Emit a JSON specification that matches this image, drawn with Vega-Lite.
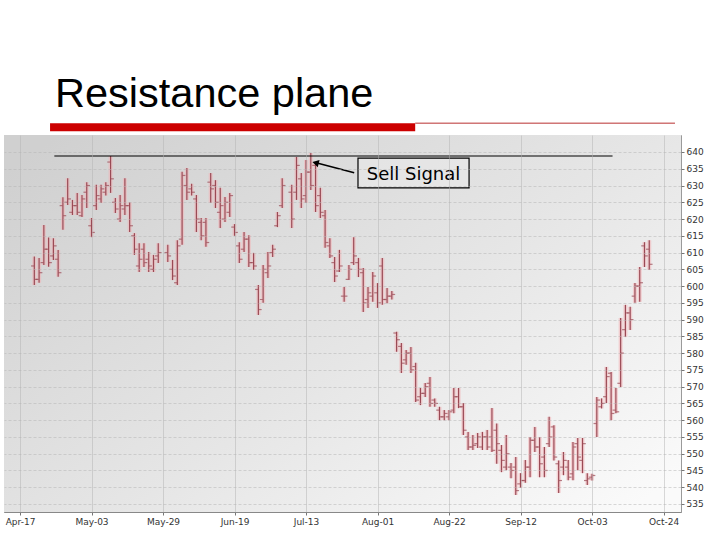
{
  "$schema": "https://vega.github.io/schema/vega-lite/v6.json",
  "width": 677,
  "height": 377,
  "autosize": "none",
  "padding": {"left": 4, "top": 135, "right": 39, "bottom": 28},
  "background": "white",
  "title": {"text": "Resistance plane", "anchor": "start", "frame": "group", "dx": 51, "dy": 52, "offset": 26, "baseline": "alphabetic", "font": "Liberation Sans", "fontSize": 41.5, "fontWeight": "normal", "color": "#000000"},
  "config": {
    "view": {"stroke": "#9a9a9a", "strokeWidth": 1},
    "axis": {"labelFont": "DejaVu Sans", "labelFontSize": 9, "labelColor": "#333333", "tickColor": "#777777", "tickSize": 3, "domainColor": "#888888", "title": null}
  },
  "datasets": {
    "bars": [
      {"d": 3, "o": 606, "h": 608.8, "l": 600.3, "c": 602},
      {"d": 4, "o": 602, "h": 608.4, "l": 601, "c": 604},
      {"d": 5, "o": 607, "h": 618.2, "l": 606.3, "c": 611},
      {"d": 6, "o": 611, "h": 614.5, "l": 605.8, "c": 607},
      {"d": 7, "o": 609, "h": 614.3, "l": 607.8, "c": 612},
      {"d": 8, "o": 608, "h": 610.8, "l": 602.8, "c": 604},
      {"d": 9, "o": 624, "h": 626.5, "l": 616.8, "c": 621},
      {"d": 10, "o": 625, "h": 632.2, "l": 624.2, "c": 626},
      {"d": 11, "o": 622, "h": 625.7, "l": 621.2, "c": 624},
      {"d": 12, "o": 624, "h": 627.8, "l": 621.2, "c": 622},
      {"d": 13, "o": 621, "h": 627.2, "l": 620.6, "c": 626},
      {"d": 14, "o": 628, "h": 631, "l": 623.3, "c": 630},
      {"d": 15, "o": 618, "h": 620.3, "l": 614.6, "c": 616},
      {"d": 16, "o": 624, "h": 630.2, "l": 622.7, "c": 627},
      {"d": 17, "o": 626, "h": 630.2, "l": 624.8, "c": 629},
      {"d": 18, "o": 628, "h": 631, "l": 627, "c": 630},
      {"d": 19, "o": 637, "h": 638.8, "l": 627.8, "c": 632},
      {"d": 20, "o": 625, "h": 626.3, "l": 621.8, "c": 623},
      {"d": 21, "o": 620, "h": 627.2, "l": 619.1, "c": 624},
      {"d": 22, "o": 623, "h": 632.2, "l": 621.2, "c": 624},
      {"d": 23, "o": 624, "h": 625, "l": 616.1, "c": 618},
      {"d": 24, "o": 615, "h": 615.8, "l": 609.3, "c": 611},
      {"d": 25, "o": 606, "h": 612.8, "l": 604.2, "c": 608},
      {"d": 26, "o": 611, "h": 612.8, "l": 605.7, "c": 607},
      {"d": 27, "o": 608, "h": 610.2, "l": 604.2, "c": 606},
      {"d": 28, "o": 605, "h": 609.3, "l": 604.2, "c": 608},
      {"d": 29, "o": 609, "h": 612.8, "l": 606.9, "c": 610},
      {"d": 31, "o": 610, "h": 612.3, "l": 607.2, "c": 609},
      {"d": 32, "o": 605, "h": 607.8, "l": 601.8, "c": 603},
      {"d": 33, "o": 601, "h": 613.7, "l": 600.3, "c": 612},
      {"d": 34, "o": 614, "h": 634.1, "l": 612.3, "c": 633},
      {"d": 35, "o": 630, "h": 635.2, "l": 625.7, "c": 628},
      {"d": 36, "o": 629, "h": 630.5, "l": 627, "c": 628},
      {"d": 37, "o": 626, "h": 627.2, "l": 616.1, "c": 620},
      {"d": 38, "o": 619, "h": 620.3, "l": 613.7, "c": 615},
      {"d": 39, "o": 619, "h": 620.3, "l": 611.7, "c": 613},
      {"d": 40, "o": 631, "h": 633.7, "l": 624.8, "c": 629},
      {"d": 41, "o": 630, "h": 631.6, "l": 623.3, "c": 625},
      {"d": 42, "o": 622, "h": 629.3, "l": 617.3, "c": 624},
      {"d": 43, "o": 620, "h": 626.6, "l": 619.1, "c": 625},
      {"d": 44, "o": 622, "h": 627.8, "l": 620.6, "c": 627},
      {"d": 45, "o": 617.6, "h": 618.5, "l": 615, "c": 616},
      {"d": 46, "o": 612, "h": 613.1, "l": 606.9, "c": 608},
      {"d": 47, "o": 611, "h": 616.1, "l": 610.2, "c": 614},
      {"d": 48, "o": 614, "h": 615.2, "l": 605.7, "c": 607},
      {"d": 49, "o": 607, "h": 609.9, "l": 604.8, "c": 606},
      {"d": 50, "o": 599, "h": 600.3, "l": 591.4, "c": 593},
      {"d": 51, "o": 596, "h": 606.3, "l": 595, "c": 605},
      {"d": 52, "o": 604, "h": 610.2, "l": 602.4, "c": 606},
      {"d": 53, "o": 610, "h": 612.3, "l": 608.7, "c": 611},
      {"d": 54, "o": 618, "h": 622.1, "l": 617.6, "c": 621},
      {"d": 55, "o": 624, "h": 632.2, "l": 623.3, "c": 630},
      {"d": 57, "o": 628, "h": 630.2, "l": 617.3, "c": 620},
      {"d": 58, "o": 628, "h": 638.5, "l": 625.7, "c": 636},
      {"d": 59, "o": 632, "h": 633.7, "l": 623.3, "c": 626},
      {"d": 60, "o": 627, "h": 637.6, "l": 624.8, "c": 634},
      {"d": 61, "o": 634, "h": 639.7, "l": 628.7, "c": 630},
      {"d": 62, "o": 636, "h": 636.7, "l": 622.1, "c": 624},
      {"d": 63, "o": 627, "h": 629.3, "l": 620.3, "c": 622},
      {"d": 64, "o": 621, "h": 622.7, "l": 611.4, "c": 613},
      {"d": 65, "o": 612, "h": 614.3, "l": 608.4, "c": 609},
      {"d": 66, "o": 607, "h": 608.7, "l": 601.2, "c": 603},
      {"d": 67, "o": 604.5, "h": 610.8, "l": 604.2, "c": 606},
      {"d": 68, "o": 597, "h": 599.7, "l": 595.3, "c": 597},
      {"d": 69, "o": 602, "h": 606.3, "l": 601.8, "c": 605},
      {"d": 70, "o": 607, "h": 614.6, "l": 606.3, "c": 609},
      {"d": 71, "o": 607, "h": 608.4, "l": 602.7, "c": 605},
      {"d": 72, "o": 604, "h": 605.4, "l": 592.3, "c": 595},
      {"d": 73, "o": 596, "h": 599.7, "l": 593.5, "c": 598},
      {"d": 74, "o": 597, "h": 604.2, "l": 595.3, "c": 603},
      {"d": 75, "o": 598, "h": 600.9, "l": 593.5, "c": 595},
      {"d": 76, "o": 606, "h": 608.4, "l": 594.4, "c": 596},
      {"d": 77, "o": 596, "h": 599.4, "l": 594.9, "c": 597},
      {"d": 78, "o": 597, "h": 598.5, "l": 596, "c": 597.5},
      {"d": 79, "o": 586, "h": 586.4, "l": 580.4, "c": 584},
      {"d": 80, "o": 582, "h": 583, "l": 574.1, "c": 577},
      {"d": 81, "o": 578, "h": 580.9, "l": 576.5, "c": 580},
      {"d": 82, "o": 580, "h": 581.8, "l": 574.1, "c": 575},
      {"d": 83, "o": 576, "h": 577.1, "l": 565.4, "c": 566},
      {"d": 84, "o": 567, "h": 569.6, "l": 564.5, "c": 568},
      {"d": 85, "o": 568, "h": 571.1, "l": 566.9, "c": 570},
      {"d": 86, "o": 571, "h": 572.9, "l": 564, "c": 565},
      {"d": 87, "o": 566, "h": 566.5, "l": 564, "c": 565},
      {"d": 88, "o": 563, "h": 564, "l": 560, "c": 561},
      {"d": 89, "o": 561, "h": 563, "l": 560, "c": 562},
      {"d": 90, "o": 561, "h": 563, "l": 560, "c": 562.5},
      {"d": 91, "o": 563, "h": 569.6, "l": 562.1, "c": 567},
      {"d": 92, "o": 567, "h": 569.6, "l": 563.6, "c": 564},
      {"d": 93, "o": 564, "h": 565.1, "l": 555.6, "c": 557},
      {"d": 94, "o": 555, "h": 556.5, "l": 551.1, "c": 552},
      {"d": 95, "o": 552, "h": 555.6, "l": 551.1, "c": 552.5},
      {"d": 96, "o": 553, "h": 556.2, "l": 551.7, "c": 555},
      {"d": 97, "o": 552, "h": 556.5, "l": 551.1, "c": 555},
      {"d": 98, "o": 555, "h": 557.1, "l": 551.1, "c": 552},
      {"d": 99, "o": 555, "h": 563.6, "l": 550.5, "c": 551},
      {"d": 100, "o": 557, "h": 559, "l": 547, "c": 553},
      {"d": 101, "o": 551, "h": 552.6, "l": 544.5, "c": 548},
      {"d": 102, "o": 546, "h": 555.6, "l": 545.1, "c": 550},
      {"d": 103, "o": 546, "h": 547.2, "l": 542.7, "c": 545},
      {"d": 104, "o": 546, "h": 549, "l": 537.7, "c": 539},
      {"d": 105, "o": 541, "h": 544.2, "l": 539.8, "c": 542},
      {"d": 106, "o": 542, "h": 548.1, "l": 541.3, "c": 546},
      {"d": 107, "o": 546, "h": 555, "l": 543, "c": 554},
      {"d": 108, "o": 554, "h": 558, "l": 550.5, "c": 552},
      {"d": 109, "o": 552, "h": 555, "l": 543, "c": 547},
      {"d": 110, "o": 549, "h": 552, "l": 543, "c": 545},
      {"d": 111, "o": 553, "h": 561, "l": 552, "c": 555},
      {"d": 112, "o": 558, "h": 558.5, "l": 548, "c": 549},
      {"d": 113, "o": 547, "h": 548, "l": 538.3, "c": 542},
      {"d": 114, "o": 546, "h": 550.5, "l": 543.6, "c": 548},
      {"d": 115, "o": 546, "h": 548.1, "l": 542.1, "c": 543},
      {"d": 116, "o": 544, "h": 553.5, "l": 542.1, "c": 552},
      {"d": 117, "o": 553, "h": 554.7, "l": 545.1, "c": 549},
      {"d": 118, "o": 548, "h": 554.7, "l": 544.2, "c": 553},
      {"d": 119, "o": 542, "h": 544.2, "l": 540.7, "c": 542.5},
      {"d": 120, "o": 543, "h": 544, "l": 542, "c": 543.5},
      {"d": 121, "o": 559, "h": 566.9, "l": 555, "c": 566},
      {"d": 122, "o": 564, "h": 566.5, "l": 563.5, "c": 565},
      {"d": 123, "o": 567, "h": 575.9, "l": 565.1, "c": 573},
      {"d": 124, "o": 574, "h": 574.4, "l": 560, "c": 562},
      {"d": 125, "o": 563, "h": 569.6, "l": 562.1, "c": 562.5},
      {"d": 126, "o": 571, "h": 590.5, "l": 569.9, "c": 580},
      {"d": 127, "o": 587, "h": 594.4, "l": 584.8, "c": 592},
      {"d": 128, "o": 592, "h": 593.8, "l": 586.9, "c": 590},
      {"d": 129, "o": 597, "h": 600.9, "l": 595, "c": 600},
      {"d": 130, "o": 600, "h": 605.7, "l": 595.3, "c": 601},
      {"d": 131, "o": 612, "h": 613.1, "l": 605.7, "c": 609},
      {"d": 132, "o": 611, "h": 613.7, "l": 604.8, "c": 606.5}
    ]
  },
  "layer": [
    {
      "data": {"values": [{}]},
      "mark": {"type": "rect", "color": {"gradient": "linear", "x1": 0, "y1": 0.1, "x2": 1, "y2": 0.9, "stops": [{"offset": 0, "color": "#d0d0d0"}, {"offset": 0.55, "color": "#e6e6e6"}, {"offset": 1, "color": "#fafafa"}]}},
      "encoding": {
        "x": {"datum": -3.36, "type": "quantitative", "scale": {"domain": [-3.36, 138.66], "nice": false, "zero": false},
          "axis": {"values": [0, 15, 30, 45, 60, 75, 90, 105, 120, 135], "tickCount": 40, "labelExpr": "['Apr-17','May-03','May-29','Jun-19','Jul-13','Aug-01','Aug-22','Sep-12','Oct-03','Oct-24'][round(datum.value/15)]", "grid": true, "gridColor": "#b4b4b4", "gridOpacity": 0.5, "zindex": 1, "labelPadding": 2, "labelOverlap": false}},
        "x2": {"datum": 138.66},
        "y": {"datum": 532.61, "type": "quantitative", "scale": {"domain": [532.61, 645.07], "nice": false, "zero": false},
          "axis": {"orient": "right", "values": [535, 540, 545, 550, 555, 560, 565, 570, 575, 580, 585, 590, 595, 600, 605, 610, 615, 620, 625, 630, 635, 640], "tickCount": 40, "grid": true, "gridColor": "#b4b4b4", "gridOpacity": 0.5, "gridDash": [3, 2], "zindex": 1, "labelPadding": 2, "labelOverlap": false, "domain": false}},
        "y2": {"datum": 645.07}
      }
    },
    {
      "data": {"name": "bars"},
      "mark": {"type": "rule", "color": "#f2b0b4", "strokeWidth": 4, "opacity": 0.55},
      "encoding": {"x": {"field": "d", "type": "quantitative"}, "y": {"field": "l", "type": "quantitative"}, "y2": {"field": "h"}}
    },
    {
      "data": {"name": "bars"},
      "mark": {"type": "rule", "color": "#9a4a55", "strokeWidth": 1.2},
      "encoding": {"x": {"field": "d", "type": "quantitative"}, "y": {"field": "l", "type": "quantitative"}, "y2": {"field": "h"}}
    },
    {
      "data": {"name": "bars"},
      "mark": {"type": "tick", "orient": "horizontal", "color": "#9a4a55", "size": 3, "thickness": 1.2, "xOffset": -1.8},
      "encoding": {"x": {"field": "d", "type": "quantitative"}, "y": {"field": "o", "type": "quantitative"}}
    },
    {
      "data": {"name": "bars"},
      "mark": {"type": "tick", "orient": "horizontal", "color": "#9a4a55", "size": 3, "thickness": 1.2, "xOffset": 1.8},
      "encoding": {"x": {"field": "d", "type": "quantitative"}, "y": {"field": "c", "type": "quantitative"}}
    },
    {
      "data": {"values": [{}]},
      "mark": {"type": "rule", "color": "#000000", "strokeWidth": 1.2},
      "encoding": {"x": {"datum": 7.2, "type": "quantitative"}, "x2": {"datum": 124.3}, "y": {"datum": 638.8, "type": "quantitative"}}
    },
    {
      "data": {"values": [{}]},
      "mark": {"type": "rule", "color": "#cc0000", "strokeWidth": 8, "strokeCap": "butt"},
      "encoding": {"x": {"datum": 6.3, "type": "quantitative"}, "x2": {"datum": 82.9}, "y": {"datum": 647.4, "type": "quantitative"}}
    },
    {
      "data": {"values": [{}]},
      "mark": {"type": "rule", "color": "#b83030", "strokeWidth": 1},
      "encoding": {"x": {"datum": 82.9, "type": "quantitative"}, "x2": {"datum": 137.4}, "y": {"datum": 648.6, "type": "quantitative"}}
    },
    {
      "data": {"values": [{}]},
      "mark": {"type": "rect", "fill": "#ececec", "fillOpacity": 0.5, "stroke": "#000000", "strokeWidth": 1.2},
      "encoding": {"x": {"datum": 70.9, "type": "quantitative"}, "x2": {"datum": 94.2}, "y": {"datum": 629.3, "type": "quantitative"}, "y2": {"datum": 638.2}}
    },
    {
      "data": {"values": [{"label": "Sell Signal"}]},
      "mark": {"type": "text", "font": "DejaVu Sans", "fontSize": 18, "color": "#000000", "align": "center", "baseline": "alphabetic"},
      "encoding": {"x": {"datum": 82.55, "type": "quantitative"}, "y": {"datum": 631.7, "type": "quantitative"}, "text": {"field": "label"}}
    },
    {
      "data": {"values": [{}]},
      "mark": {"type": "rule", "color": "#000000", "strokeWidth": 1.6},
      "encoding": {"x": {"datum": 62.3, "type": "quantitative"}, "x2": {"datum": 70.1}, "y": {"datum": 636.7, "type": "quantitative"}, "y2": {"datum": 633.8}}
    },
    {
      "data": {"values": [{}]},
      "mark": {"type": "point", "shape": "triangle-left", "filled": true, "color": "#000000", "size": 55, "angle": 14, "opacity": 1},
      "encoding": {"x": {"datum": 62.0, "type": "quantitative"}, "y": {"datum": 636.75, "type": "quantitative"}}
    }
  ]
}
